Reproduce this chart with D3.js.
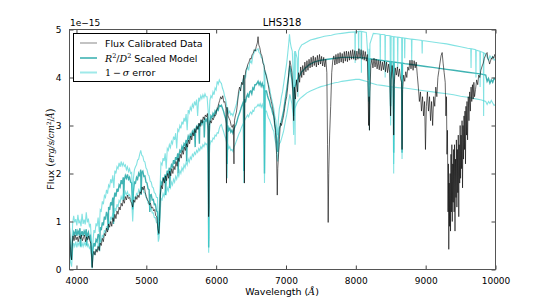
<!DOCTYPE html>
<html>
<head>
<meta charset="utf-8">
<script src="https://cdn.jsdelivr.net/npm/d3@7"></script>
<style>
  body { margin: 0; background: #fff; }
  text { font-family: "DejaVu Sans", sans-serif; fill: #000; }
</style>
</head>
<body>
<script>
// values in units of 1e-15 erg/s/cm^2/A
var fluxData = [
  [3900,0.88],[3910,0.55],[3920,0.30],[3930,0.20],[3940,0.55],[3950,0.70],[3965,0.60],[3980,0.72],[3995,0.62],[4010,0.68],
  [4025,0.58],[4040,0.70],[4055,0.64],[4070,0.72],[4085,0.60],[4100,0.66],[4115,0.72],[4130,0.58],[4145,0.68],[4160,0.62],
  [4175,0.70],[4190,0.60],[4205,0.55],[4215,0.30],[4225,0.04],[4235,0.30],[4250,0.38],[4265,0.30],[4280,0.42],[4295,0.36],
  [4310,0.48],[4325,0.40],[4340,0.55],[4355,0.50],[4370,0.65],[4385,0.58],[4400,0.75],[4415,0.70],[4430,0.86],[4445,0.78],
  [4460,0.95],[4475,0.88],[4490,1.00],[4505,0.90],[4520,1.08],[4535,1.00],[4550,1.15],[4565,1.06],[4580,1.22],[4595,1.15],
  [4610,1.30],[4625,1.24],[4640,1.38],[4655,1.32],[4670,1.45],[4685,1.38],[4700,1.52],[4715,1.45],[4730,1.55],[4745,1.48],
  [4760,1.50],[4775,1.42],[4790,1.38],[4805,1.30],[4820,1.45],[4835,1.40],[4850,1.52],[4865,1.46],[4880,1.55],[4895,1.50],
  [4910,1.62],[4925,1.58],[4940,1.72],[4955,1.66],[4970,1.74],[4985,1.60],[5000,1.52],[5015,1.45],[5030,1.42],[5045,1.35],
  [5060,1.38],[5075,1.28],[5090,1.30],[5105,1.22],[5120,1.25],[5135,1.12],[5150,1.10],[5165,0.85],[5180,0.75],[5190,1.00],
  [5200,1.55],[5215,1.75],[5230,1.68],[5245,1.90],[5260,1.80],[5275,1.95],[5290,1.85],[5305,2.00],[5320,1.90],[5335,2.05],
  [5350,1.95],[5365,2.10],[5380,2.00],[5395,2.15],[5410,2.08],[5425,2.25],[5440,2.15],[5455,2.32],[5470,2.25],[5485,2.40],
  [5500,2.32],[5515,2.48],[5530,2.40],[5545,2.55],[5560,2.48],[5575,2.62],[5590,2.55],[5605,2.70],[5620,2.62],[5635,2.78],
  [5650,2.70],[5665,2.85],[5680,2.78],[5695,2.92],[5710,2.85],[5725,2.98],[5740,2.92],[5755,3.05],[5770,2.98],[5785,3.12],
  [5800,3.05],[5815,3.18],[5830,3.12],[5845,3.22],[5860,3.18],[5875,3.25],[5885,3.00],[5892,1.10],[5897,1.30],[5902,3.00],
  [5915,3.10],[5930,3.05],[5945,3.15],[5960,3.12],[5975,3.22],[5990,3.20],[6005,3.32],[6020,3.35],[6035,3.45],[6050,3.52],
  [6065,3.60],[6080,3.55],[6095,3.62],[6110,3.48],[6125,3.50],[6140,3.35],[6148,1.80],[6155,3.38],[6170,3.20],[6185,3.15],
  [6200,3.10],[6215,3.00],[6230,2.96],[6245,3.02],[6255,2.20],[6262,3.10],[6275,3.20],[6290,3.28],[6305,3.45],[6320,3.70],
  [6335,3.80],[6350,3.72],[6365,3.90],[6380,3.85],[6395,4.05],[6405,1.80],[6412,4.00],[6425,4.15],[6440,4.20],[6455,4.28],
  [6470,4.32],[6485,4.40],[6500,4.38],[6515,4.48],[6530,4.50],[6545,4.58],[6560,4.55],[6575,4.65],[6590,4.72],[6600,4.85],
  [6610,4.68],[6625,4.62],[6640,4.50],[6655,4.45],[6670,4.30],[6685,4.25],[6700,4.12],[6715,4.05],[6730,3.95],[6745,3.85],
  [6760,3.72],[6775,3.60],[6790,3.50],[6805,3.40],[6820,3.28],[6835,3.10],[6850,2.85],[6865,2.40],[6875,1.55],[6882,2.10],
  [6890,2.30],[6905,2.70],[6920,3.05],[6935,3.00],[6950,3.10],[6965,3.20],[6980,3.35],[6995,3.50],[7010,3.60],[7025,3.80],
  [7040,4.10],[7055,4.35],[7070,4.25],[7085,4.10],[7100,3.70],[7110,3.10],[7120,3.80],[7135,3.55],[7150,3.95],[7165,3.70],
  [7180,4.10],[7195,3.90],[7210,4.22],[7225,4.00],[7240,4.25],[7255,4.05],[7270,4.32],[7285,4.12],[7300,4.35],[7315,4.15],
  [7330,4.38],[7345,4.20],[7360,4.42],[7375,4.22],[7390,4.45],[7405,4.25],[7420,4.42],[7435,4.22],[7450,4.46],[7465,4.26],
  [7480,4.48],[7495,4.28],[7510,4.44],[7525,4.24],[7540,4.42],[7555,4.22],[7570,4.38],[7585,4.10],[7595,2.60],[7604,0.98],
  [7612,2.00],[7625,2.80],[7640,3.40],[7655,4.10],[7670,4.36],[7685,4.45],[7700,4.26],[7715,4.48],[7730,4.28],[7745,4.50],
  [7760,4.30],[7775,4.52],[7790,4.32],[7805,4.50],[7820,4.30],[7835,4.54],[7850,4.34],[7865,4.55],[7880,4.33],[7895,4.54],
  [7910,4.36],[7925,4.56],[7940,4.38],[7955,4.58],[7970,4.38],[7985,4.56],[8000,4.36],[8015,4.55],[8030,4.38],[8045,4.60],
  [8060,4.40],[8075,4.58],[8090,4.38],[8105,4.56],[8120,4.36],[8135,4.54],[8150,4.34],[8165,4.48],[8175,3.80],[8183,3.00],
  [8190,3.60],[8195,2.90],[8202,3.70],[8215,4.25],[8230,4.38],[8245,4.20],[8260,4.40],[8275,4.22],[8290,4.38],[8305,4.18],
  [8320,4.36],[8335,4.16],[8350,4.35],[8365,4.14],[8380,4.32],[8395,4.16],[8410,4.34],[8425,4.12],[8440,4.32],[8455,4.10],
  [8470,4.28],[8485,4.10],[8498,3.20],[8505,3.95],[8520,4.25],[8535,3.95],[8542,2.80],[8550,3.85],[8565,4.20],[8580,4.05],
  [8595,4.22],[8610,4.02],[8625,4.18],[8640,3.98],[8655,3.90],[8662,2.50],[8670,3.75],[8685,4.05],[8700,3.92],[8715,4.12],
  [8730,4.00],[8745,4.22],[8760,4.15],[8775,4.36],[8790,4.18],[8805,4.36],[8820,4.15],[8835,4.35],[8850,4.20],[8865,4.32],
  [8880,4.05],[8895,3.80],[8910,3.50],[8925,3.70],[8940,3.30],[8955,3.60],[8970,3.20],[8985,3.50],[8997,2.50],[9010,3.40],
  [9025,3.70],[9040,3.30],[9055,3.60],[9070,3.10],[9085,3.50],[9100,3.00],[9115,3.60],[9130,3.40],[9145,3.80],[9160,3.60],
  [9175,4.00],[9190,4.15],[9205,4.30],[9220,4.45],[9236,4.52],[9250,4.30],[9265,4.10],[9280,3.90],[9290,3.20],[9298,3.60],
  [9305,2.40],[9312,2.90],[9320,1.20],[9326,2.20],[9331,0.42],[9337,1.80],[9343,0.90],[9350,2.00],[9356,0.80],[9362,2.40],
  [9368,1.20],[9375,2.60],[9381,1.00],[9388,2.20],[9394,1.40],[9400,2.50],[9407,1.20],[9413,2.60],[9420,0.80],[9427,2.30],
  [9434,1.50],[9440,2.70],[9447,1.30],[9454,2.50],[9460,1.60],[9467,2.80],[9474,1.10],[9480,2.60],[9487,1.80],[9494,3.00],
  [9500,1.90],[9507,2.80],[9514,2.10],[9521,3.10],[9528,1.70],[9535,3.00],[9542,2.30],[9549,3.20],[9556,2.50],[9563,3.30],
  [9570,2.20],[9577,3.40],[9585,2.80],[9592,3.50],[9600,2.70],[9610,3.60],[9620,3.10],[9630,3.70],[9640,3.30],[9650,3.80],
  [9660,3.50],[9670,3.85],[9680,3.55],[9690,3.90],[9700,3.60],[9714,3.75],[9730,3.95],[9745,3.85],[9760,4.05],[9775,4.00],
  [9790,4.15],[9809,4.24],[9825,4.30],[9840,4.40],[9855,4.45],[9870,4.50],[9880,4.52],[9890,4.40],[9905,4.35],[9915,4.28],
  [9928,4.34],[9940,4.40],[9950,4.38],[9961,4.44],[9975,4.40],[9990,4.48],[10000,4.45]
];

var modelFlux = [
  [3900,0.62],[3915,0.30],[3930,0.20],[3945,0.66],[3960,0.78],[3975,0.72],[3990,0.84],[4005,0.70],[4020,0.80],[4035,0.74],
  [4050,0.86],[4060,0.48],[4065,0.72],[4080,0.80],[4095,0.70],[4110,0.80],[4125,0.74],[4140,0.84],[4146,0.50],[4155,0.72],
  [4170,0.78],[4185,0.66],[4200,0.70],[4215,0.40],[4225,0.05],[4235,0.42],[4250,0.55],[4265,0.48],[4280,0.62],[4295,0.58],
  [4310,0.74],[4325,0.68],[4330,0.38],[4340,0.88],[4355,0.82],[4370,0.98],[4385,0.92],[4400,1.10],[4415,1.04],[4430,1.20],
  [4445,1.12],[4455,0.82],[4460,1.30],[4475,1.24],[4490,1.40],[4505,1.34],[4520,1.50],[4530,0.95],[4535,1.44],[4550,1.60],
  [4565,1.52],[4580,1.68],[4595,1.62],[4610,1.76],[4625,1.72],[4640,1.86],[4655,1.78],[4670,1.92],[4676,1.45],[4685,1.86],
  [4700,1.96],[4715,1.90],[4730,1.98],[4745,1.88],[4760,1.92],[4775,1.82],[4790,1.80],[4805,1.25],[4815,1.62],[4830,1.82],
  [4845,1.80],[4860,1.92],[4875,1.88],[4890,2.00],[4905,1.94],[4920,2.08],[4925,1.55],[4935,2.02],[4950,2.05],[4965,1.94],
  [4980,1.95],[4995,1.82],[5010,1.80],[5025,1.68],[5040,1.66],[5050,1.20],[5055,1.55],[5070,1.56],[5085,1.45],[5100,1.46],
  [5115,1.35],[5130,1.36],[5145,1.22],[5160,1.20],[5172,0.72],[5183,0.82],[5195,1.35],[5210,1.82],[5225,1.78],[5240,1.92],
  [5255,1.86],[5270,1.98],[5275,1.55],[5285,1.92],[5300,2.06],[5315,2.00],[5330,2.12],[5335,1.70],[5345,2.06],[5360,2.18],
  [5375,2.14],[5390,2.28],[5405,2.20],[5420,2.34],[5435,2.28],[5450,2.42],[5455,2.00],[5465,2.36],[5480,2.48],[5495,2.44],
  [5510,2.56],[5525,2.50],[5540,2.62],[5555,2.58],[5570,2.70],[5578,2.25],[5585,2.66],[5600,2.78],[5615,2.72],[5630,2.82],
  [5645,2.78],[5660,2.88],[5675,2.84],[5690,2.94],[5700,2.55],[5705,2.90],[5720,2.98],[5735,2.94],[5750,3.04],[5760,2.62],
  [5765,2.98],[5780,3.08],[5795,3.02],[5810,3.10],[5825,3.06],[5830,2.75],[5840,3.14],[5855,3.10],[5870,3.14],[5885,2.90],
  [5893,0.46],[5900,2.80],[5910,3.08],[5925,3.20],[5940,3.16],[5955,3.25],[5970,3.20],[5985,3.30],[6000,3.26],[6015,3.35],
  [6030,3.32],[6045,3.42],[6060,3.40],[6075,3.42],[6090,3.36],[6105,3.30],[6120,3.22],[6135,3.15],[6150,3.04],[6158,2.20],
  [6165,3.00],[6180,2.90],[6195,2.94],[6210,2.86],[6225,2.90],[6240,2.84],[6255,2.92],[6270,2.98],[6285,3.02],[6300,3.10],
  [6315,3.18],[6330,3.24],[6345,3.30],[6360,3.38],[6375,3.44],[6390,3.50],[6396,2.05],[6405,3.55],[6420,3.48],[6435,3.60],
  [6450,3.65],[6465,3.58],[6480,3.70],[6495,3.72],[6510,3.66],[6525,3.78],[6540,3.75],[6555,3.85],[6570,3.85],[6585,3.88],
  [6600,3.92],[6615,3.85],[6630,3.90],[6645,3.82],[6660,3.88],[6675,3.80],[6685,3.82],[6692,2.00],[6700,3.72],[6720,3.72],
  [6735,3.62],[6750,3.55],[6765,3.50],[6780,3.40],[6795,3.35],[6810,3.25],[6825,3.20],[6840,3.00],[6855,2.90],[6870,2.60],
  [6880,2.45],[6890,2.75],[6905,2.95],[6920,3.00],[6935,3.10],[6950,3.20],[6965,3.30],[6980,3.45],[6995,3.60],[7010,3.75],
  [7025,3.90],[7040,4.05],[7055,4.25],[7070,4.10],[7085,3.95],[7100,3.70],[7110,3.20],[7120,3.80],[7140,3.85],[7160,3.95],
  [7180,4.00],[7200,4.05],[7225,4.12],[7250,4.15],[7275,4.20],[7300,4.22],[7325,4.26],[7350,4.28],[7375,4.30],[7400,4.32],
  [7450,4.34],[7500,4.36],[7550,4.37],[7600,4.38],[7650,4.39],[7700,4.40],[7750,4.41],[7800,4.42],[7900,4.42],[8000,4.42],
  [8100,4.41],[8175,4.40],[8183,3.95],[8190,4.38],[8195,3.85],[8202,4.39],[8300,4.37],[8400,4.35],[8490,4.33],[8498,3.40],
  [8506,4.33],[8536,4.32],[8542,2.43],[8548,4.32],[8600,4.31],[8656,4.30],[8662,2.43],[8668,4.30],[8700,4.29],[8800,4.27],
  [8900,4.25],[9000,4.23],[9100,4.21],[9200,4.19],[9300,4.17],[9400,4.15],[9500,4.13],[9600,4.11],[9700,4.09],[9800,4.07],
  [9860,4.05],[9880,3.92],[9900,3.98],[9920,3.88],[9940,3.95],[9960,3.90],[9980,3.98],[10000,3.96]
];

var errUpper = [
  [3900,0.98],[3915,0.50],[3930,0.30],[3945,0.95],[3960,1.12],[3975,0.98],[3990,1.05],[4005,0.92],[4020,1.14],[4035,0.96],
  [4050,1.02],[4065,0.90],[4080,1.16],[4095,0.95],[4110,1.04],[4125,0.94],[4140,1.19],[4155,0.98],[4170,1.06],[4185,0.90],
  [4200,0.95],[4215,0.55],[4225,0.10],[4235,0.55],[4250,0.82],[4265,0.76],[4280,0.96],[4295,0.90],[4310,1.08],[4325,0.78],
  [4340,1.25],[4355,1.22],[4370,1.42],[4385,1.36],[4400,1.54],[4415,1.50],[4430,1.66],[4445,1.58],[4460,1.76],[4475,1.72],
  [4490,1.88],[4505,1.80],[4520,1.96],[4535,1.70],[4550,2.06],[4565,2.00],[4580,2.14],[4595,2.10],[4610,2.22],[4625,2.14],
  [4640,2.25],[4655,2.16],[4670,2.22],[4685,2.15],[4700,2.18],[4715,2.08],[4730,2.14],[4745,2.04],[4760,2.10],[4775,2.00],
  [4790,2.02],[4805,1.45],[4815,1.90],[4830,2.08],[4845,2.14],[4860,2.18],[4875,2.28],[4890,2.30],[4905,2.40],[4920,2.48],
  [4935,2.38],[4950,2.36],[4965,2.26],[4980,2.24],[4995,2.12],[5010,2.08],[5025,1.98],[5040,1.95],[5055,1.84],[5070,1.82],
  [5085,1.72],[5100,1.70],[5115,1.60],[5130,1.58],[5145,1.50],[5160,1.50],[5172,0.90],[5183,1.00],[5195,1.65],[5210,2.22],
  [5225,2.18],[5240,2.32],[5255,2.26],[5270,2.42],[5285,2.10],[5300,2.52],[5315,2.48],[5330,2.60],[5345,2.54],[5360,2.67],
  [5375,2.62],[5390,2.77],[5405,2.70],[5420,2.84],[5435,2.52],[5450,2.92],[5465,2.88],[5480,3.00],[5495,2.94],[5510,3.08],
  [5525,3.02],[5540,3.16],[5555,3.08],[5570,3.24],[5585,2.90],[5600,3.32],[5615,3.26],[5630,3.38],[5645,3.32],[5660,3.44],
  [5675,3.38],[5690,3.50],[5705,3.42],[5720,3.54],[5735,3.20],[5750,3.58],[5765,3.52],[5780,3.62],[5795,3.56],[5810,3.64],
  [5825,3.58],[5840,3.66],[5855,3.60],[5870,3.60],[5885,3.30],[5893,0.60],[5900,3.20],[5910,3.52],[5925,3.62],[5940,3.58],
  [5955,3.70],[5970,3.64],[5985,3.78],[6000,3.74],[6015,3.92],[6030,3.86],[6045,3.95],[6060,3.90],[6075,3.88],[6090,3.78],
  [6105,3.72],[6120,3.62],[6135,3.55],[6150,3.42],[6158,2.50],[6165,3.38],[6180,3.26],[6195,3.30],[6210,3.22],[6225,3.25],
  [6240,3.20],[6255,3.28],[6270,3.35],[6285,3.42],[6300,3.50],[6315,3.60],[6330,3.68],[6345,3.74],[6360,3.85],[6375,3.90],
  [6390,3.98],[6396,2.30],[6405,4.05],[6420,3.98],[6435,4.15],[6450,4.22],[6465,4.15],[6480,4.30],[6495,4.35],[6510,4.30],
  [6525,4.45],[6540,4.50],[6555,4.58],[6570,4.55],[6585,4.58],[6600,4.60],[6615,4.52],[6630,4.50],[6645,4.42],[6660,4.40],
  [6675,4.30],[6685,4.28],[6692,2.60],[6700,4.15],[6720,4.05],[6735,3.95],[6750,3.85],[6765,3.78],[6780,3.65],[6795,3.55],
  [6810,3.45],[6825,3.35],[6840,3.20],[6855,3.10],[6870,2.90],[6880,2.80],[6890,3.10],[6905,3.35],[6920,3.45],[6935,3.60],
  [6950,3.70],[6965,3.85],[6980,4.00],[6995,4.15],[7010,4.30],[7025,4.50],[7040,4.72],[7050,4.90],[7060,4.75],[7075,4.62],
  [7090,4.55],[7100,4.20],[7110,3.30],[7120,4.50],[7126,4.55],[7130,2.60],[7134,4.55],[7160,4.40],[7170,3.60],[7180,4.55],
  [7200,4.62],[7225,4.68],[7250,4.70],[7275,4.72],[7300,4.74],[7325,4.76],[7350,4.78],[7375,4.79],[7400,4.80],[7450,4.82],
  [7500,4.84],[7550,4.86],[7600,4.87],[7650,4.88],[7700,4.90],[7750,4.91],[7800,4.92],[7850,4.93],[7900,4.94],[7986,4.95],
  [7990,4.30],[7994,4.95],[8036,4.96],[8040,4.50],[8044,4.96],[8076,4.96],[8080,4.10],[8084,4.96],[8150,4.94],[8175,4.40],
  [8183,3.50],[8190,4.60],[8195,2.90],[8202,4.70],[8250,4.92],[8300,4.91],[8346,4.90],[8350,4.30],[8354,4.90],[8416,4.89],
  [8420,4.00],[8424,4.88],[8490,4.87],[8498,3.60],[8506,4.86],[8536,4.85],[8542,2.00],[8548,4.85],[8596,4.84],[8600,4.20],
  [8604,4.84],[8656,4.83],[8662,2.80],[8668,4.83],[8696,4.82],[8700,4.40],[8704,4.82],[8796,4.80],[8800,4.35],[8804,4.80],
  [8900,4.78],[8946,4.77],[8950,4.50],[8954,4.77],[9000,4.76],[9100,4.74],[9200,4.72],[9300,4.70],[9400,4.67],[9500,4.64],
  [9600,4.61],[9646,4.60],[9650,4.20],[9654,4.60],[9716,4.58],[9720,4.00],[9724,4.57],[9776,4.55],[9780,3.80],[9784,4.54],
  [9826,4.52],[9830,3.20],[9834,4.51],[9860,4.49],[9880,4.42],[9900,4.36],[9920,4.45],[9940,4.40],[9960,4.44],[9980,4.36],
  [10000,4.38]
];

var errLower = [
  [3900,0.42],[3915,0.15],[3930,0.06],[3945,0.42],[3960,0.55],[3975,0.48],[3990,0.58],[4005,0.46],[4020,0.56],[4035,0.50],
  [4050,0.60],[4065,0.46],[4080,0.55],[4095,0.48],[4110,0.56],[4125,0.50],[4140,0.60],[4155,0.48],[4170,0.52],[4185,0.44],
  [4200,0.48],[4215,0.26],[4225,0.02],[4235,0.28],[4250,0.36],[4265,0.32],[4280,0.42],[4295,0.40],[4310,0.52],[4325,0.46],
  [4340,0.62],[4355,0.58],[4370,0.72],[4385,0.66],[4400,0.82],[4415,0.76],[4430,0.90],[4445,0.84],[4460,1.00],[4475,0.94],
  [4490,1.10],[4505,1.04],[4520,1.18],[4535,1.10],[4550,1.28],[4565,1.22],[4580,1.36],[4595,1.30],[4610,1.44],[4625,1.40],
  [4640,1.52],[4655,1.46],[4670,1.58],[4685,1.52],[4700,1.62],[4715,1.56],[4730,1.62],[4745,1.54],[4760,1.56],[4775,1.48],
  [4790,1.46],[4805,1.00],[4815,1.32],[4830,1.50],[4845,1.48],[4860,1.58],[4875,1.55],[4890,1.66],[4905,1.60],[4920,1.72],
  [4935,1.66],[4950,1.70],[4965,1.60],[4980,1.60],[4995,1.50],[5010,1.48],[5025,1.38],[5040,1.36],[5055,1.26],[5070,1.28],
  [5085,1.18],[5100,1.18],[5115,1.08],[5130,1.08],[5145,0.98],[5160,0.96],[5172,0.58],[5183,0.66],[5195,1.08],[5210,1.48],
  [5225,1.45],[5240,1.58],[5255,1.52],[5270,1.64],[5285,1.58],[5300,1.70],[5315,1.64],[5330,1.76],[5345,1.70],[5360,1.82],
  [5375,1.76],[5390,1.88],[5405,1.82],[5420,1.94],[5435,1.88],[5450,2.00],[5465,1.94],[5480,2.06],[5495,2.00],[5510,2.12],
  [5525,2.06],[5540,2.18],[5555,2.12],[5570,2.24],[5585,2.18],[5600,2.30],[5615,2.24],[5630,2.34],[5645,2.30],[5660,2.40],
  [5675,2.36],[5690,2.44],[5705,2.40],[5720,2.48],[5735,2.44],[5750,2.52],[5765,2.48],[5780,2.56],[5795,2.52],[5810,2.60],
  [5825,2.56],[5840,2.64],[5855,2.60],[5870,2.62],[5885,2.40],[5893,0.35],[5900,2.30],[5910,2.58],[5925,2.68],[5940,2.66],
  [5955,2.74],[5970,2.72],[5985,2.80],[6000,2.78],[6015,2.85],[6030,2.84],[6045,2.94],[6060,3.00],[6075,3.02],[6090,2.94],
  [6105,2.88],[6120,2.80],[6135,2.74],[6150,2.64],[6158,1.90],[6165,2.62],[6180,2.52],[6195,2.56],[6210,2.48],[6225,2.50],
  [6240,2.46],[6255,2.55],[6270,2.60],[6285,2.66],[6300,2.72],[6315,2.78],[6330,2.84],[6345,2.88],[6360,2.95],[6375,3.00],
  [6390,3.05],[6396,1.80],[6405,3.10],[6420,3.14],[6435,3.18],[6450,3.22],[6465,3.18],[6480,3.25],[6495,3.28],[6510,3.24],
  [6525,3.32],[6540,3.30],[6555,3.38],[6570,3.38],[6585,3.40],[6600,3.44],[6615,3.40],[6630,3.45],[6645,3.38],[6660,3.44],
  [6675,3.36],[6685,3.37],[6692,1.80],[6700,3.30],[6720,3.30],[6735,3.22],[6750,3.15],[6765,3.12],[6780,3.05],[6795,3.00],
  [6810,2.92],[6825,2.88],[6840,2.72],[6855,2.62],[6870,2.40],[6880,2.25],[6890,2.45],[6905,2.62],[6920,2.65],[6935,2.72],
  [6950,2.80],[6965,2.88],[6980,3.00],[6995,3.12],[7010,3.22],[7025,3.35],[7040,3.50],[7055,3.65],[7070,3.55],[7085,3.45],
  [7100,3.25],[7110,2.80],[7120,3.35],[7140,3.40],[7160,3.48],[7180,3.52],[7200,3.56],[7250,3.62],[7300,3.68],[7350,3.72],
  [7400,3.75],[7450,3.78],[7500,3.81],[7550,3.83],[7600,3.85],[7650,3.87],[7700,3.89],[7750,3.90],[7800,3.92],[7850,3.93],
  [7900,3.94],[7950,3.95],[8000,3.96],[8050,3.96],[8100,3.94],[8175,3.91],[8183,3.50],[8190,3.90],[8195,3.45],[8202,3.89],
  [8300,3.85],[8400,3.83],[8490,3.81],[8498,3.00],[8506,3.81],[8536,3.80],[8542,2.20],[8548,3.80],[8600,3.79],[8656,3.78],
  [8662,2.30],[8668,3.78],[8700,3.78],[8800,3.76],[8900,3.74],[9000,3.72],[9100,3.70],[9200,3.68],[9300,3.66],[9400,3.64],
  [9500,3.61],[9600,3.59],[9700,3.56],[9800,3.53],[9860,3.50],[9880,3.44],[9900,3.50],[9920,3.46],[9940,3.52],[9960,3.47],
  [9980,3.42],[10000,3.44]
];

var xTicks = [4000, 5000, 6000, 7000, 8000, 9000, 10000];
var yTicks = [0, 1, 2, 3, 4, 5];

var width = 550, height = 300;
var svg = d3.select('body').append('svg')
  .attr('width', width)
  .attr('height', height);

var x = d3.scaleLinear().domain([3900, 10000]).range([69.5, 495.5]);
var y = d3.scaleLinear().domain([0, 5]).range([269.5, 29.5]);

svg.append('clipPath').attr('id', 'plotClip')
  .append('rect')
  .attr('x', 69.5).attr('y', 29.5)
  .attr('width', 426).attr('height', 240);

var line = d3.line()
  .x(function(d) { return x(d[0]); })
  .y(function(d) { return y(d[1]); });

var plot = svg.append('g').attr('clip-path', 'url(#plotClip)');

var dataColor = '#000', modelColor = '#009a9a', errColor = '#3fd3d3';

plot.append('path').datum(modelFlux)
  .attr('d', line).attr('fill', 'none')
  .attr('stroke', modelColor).attr('stroke-width', 1.4).attr('stroke-opacity', 0.75);

[errUpper, errLower].forEach(function(series) {
  plot.append('path').datum(series)
    .attr('d', line).attr('fill', 'none')
    .attr('stroke', errColor).attr('stroke-width', 1.1).attr('stroke-opacity', 0.65);
});

// data on top so the black band stays visible in the red
plot.append('path').datum(fluxData)
  .attr('d', line).attr('fill', 'none')
  .attr('stroke', dataColor).attr('stroke-width', 0.8).attr('stroke-opacity', 0.75);

// axes, ticks inward on all four sides
function styleAxis(g) {
  g.select('.domain').remove();
  g.selectAll('line').attr('stroke', '#444');
  g.selectAll('text').style('font-size', '9px').style('font-family', '"DejaVu Sans", sans-serif');
}

var fmt = d3.format('d');
svg.append('g').attr('transform', 'translate(0,269.5)')
  .call(d3.axisBottom(x).tickValues(xTicks).tickFormat(fmt).tickSizeInner(-4).tickSizeOuter(0).tickPadding(8))
  .call(styleAxis);
svg.append('g').attr('transform', 'translate(0,29.5)')
  .call(d3.axisTop(x).tickValues(xTicks).tickSizeInner(-4).tickSizeOuter(0).tickFormat(''))
  .call(styleAxis);
svg.append('g').attr('transform', 'translate(69.5,0)')
  .call(d3.axisLeft(y).tickValues(yTicks).tickFormat(fmt).tickSizeInner(-4).tickSizeOuter(0).tickPadding(8))
  .call(styleAxis);
svg.append('g').attr('transform', 'translate(495.5,0)')
  .call(d3.axisRight(y).tickValues(yTicks).tickSizeInner(-4).tickSizeOuter(0).tickFormat(''))
  .call(styleAxis);

svg.append('rect')
  .attr('x', 69.5).attr('y', 29.5).attr('width', 426).attr('height', 240)
  .attr('fill', 'none').attr('stroke', '#555').attr('stroke-width', 1);

// title and offset
svg.append('text').attr('x', 282).attr('y', 26).attr('text-anchor', 'middle')
  .style('font-size', '10px').text('LHS318');
svg.append('text').attr('x', 70).attr('y', 26)
  .style('font-size', '9px').text('1e\u221215');

// x label
var xl = svg.append('text').attr('x', 282).attr('y', 295).attr('text-anchor', 'middle')
  .style('font-size', '9.5px');
xl.append('tspan').text('Wavelength (');
xl.append('tspan').style('font-style', 'italic').style('font-family', '"DejaVu Serif", serif').text('\u00C5');
xl.append('tspan').text(')');

// y label
var yl = svg.append('text').attr('transform', 'translate(54,149) rotate(-90)')
  .attr('text-anchor', 'middle').style('font-size', '9.5px');
yl.append('tspan').text('Flux ');
yl.append('tspan').style('font-family', '"DejaVu Serif", serif').style('font-size', '10.5px').text('(');
var ylm = function(t, it) {
  return yl.append('tspan').style('font-family', '"DejaVu Serif", serif')
    .style('font-style', it ? 'italic' : 'normal').style('font-size', '8.5px').text(t);
};
ylm('erg/s/cm', true);
ylm('2', false).attr('dy', -3.5).style('font-size', '6px');
ylm('/', false).attr('dy', 3.5);
ylm('\u00C5', true);
yl.append('tspan').style('font-family', '"DejaVu Serif", serif').style('font-size', '10.5px').text(')');

// legend
var legend = svg.append('g');
legend.append('rect')
  .attr('x', 73.5).attr('y', 33.5).attr('width', 136).attr('height', 48)
  .attr('fill', '#fff').attr('stroke', '#000').attr('stroke-width', 1);

var rows = [
  { y: 43, color: dataColor, w: 0.8, op: 0.6 },
  { y: 58, color: modelColor, w: 2, op: 0.6 },
  { y: 72.5, color: errColor, w: 2, op: 0.5 }
];
rows.forEach(function(r) {
  legend.append('line')
    .attr('x1', 80).attr('x2', 97).attr('y1', r.y).attr('y2', r.y)
    .attr('stroke', r.color).attr('stroke-width', r.w).attr('stroke-opacity', r.op);
});

legend.append('text').attr('x', 105).attr('y', 46.5).style('font-size', '9.5px')
  .text('Flux Calibrated Data');

var t2 = legend.append('text').attr('x', 105).attr('y', 61.5).style('font-size', '9.5px');
var serif = function(t, sel, it) {
  return sel.append('tspan').style('font-family', '"DejaVu Serif", serif')
    .style('font-style', it ? 'italic' : 'normal').text(t);
};
serif('R', t2, true);
serif('2', t2, false).attr('dy', -4).style('font-size', '6.5px');
serif('/', t2, false).attr('dy', 4);
serif('D', t2, true);
serif('2', t2, false).attr('dy', -4).style('font-size', '6.5px');
t2.append('tspan').attr('dy', 4).text(' Scaled Model');

var t3 = legend.append('text').attr('x', 105).attr('y', 76).style('font-size', '9.5px');
serif('1\u2009\u2212\u2009', t3, false);
serif('\u03C3', t3, true);
t3.append('tspan').text(' error');
</script>
</body>
</html>
